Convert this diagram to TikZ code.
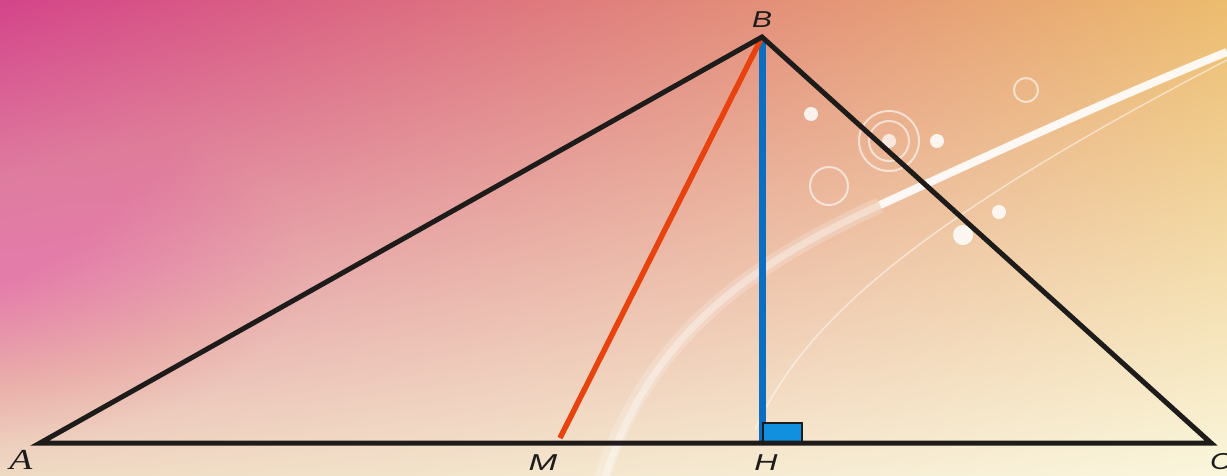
\documentclass[tikz,border=0pt]{standalone}
\usepackage{fontspec}
\usepackage{graphicx}
\setmainfont{Liberation Serif}
\setsansfont{Liberation Sans}
\usetikzlibrary{shadings}
\definecolor{bgul}{HTML}{D4448A}
\definecolor{bgur}{HTML}{ECBC6E}
\definecolor{bgll}{HTML}{EFD9C2}
\definecolor{bglr}{HTML}{FAF6DC}
\definecolor{pinkglow}{HTML}{F37CAA}
\definecolor{edgeblack}{HTML}{1E1C1A}
\definecolor{medianred}{HTML}{E8420E}
\definecolor{heightblue}{HTML}{0A6FC2}
\definecolor{squareblue}{HTML}{1190E0}
\newcommand{\widelabel}[2]{\scalebox{#1}[1]{#2}}
\tikzset{
  side/.style={draw=edgeblack, line width=5pt, line join=miter},
  median/.style={draw=medianred, line width=5.5pt},
  altitude/.style={draw=heightblue, line width=7pt},
  rightmark/.style={draw=edgeblack, fill=squareblue, line width=2pt},
  ptlabel/.style={font=\sffamily\itshape\fontsize{23}{23}\selectfont, text=edgeblack, inner sep=0pt},
  serlabel/.style={font=\rmfamily\itshape\fontsize{29}{29}\selectfont, text=edgeblack, inner sep=0pt},
  dot/.style={fill=white, opacity=0.85},
  ring/.style={draw=white, opacity=0.6, line width=2pt},
}
\begin{document}
\begin{tikzpicture}[x=1pt,y=-1pt]
\useasboundingbox (0,0) rectangle (1227,475);
% background
\begin{scope}
\clip (0,0) rectangle (1227,475);
\shade[upper left=bgul, upper right=bgur, lower left=bgll, lower right=bglr] (0,0) rectangle (1227,475);
\foreach \k in {1,...,40} {
  \fill[pinkglow, opacity=0.012] (-60,270) ellipse ({9*\k} and {4.5*\k});
}
% white arcs
\draw[white, opacity=0.2, line width=16pt] (602,478) .. controls (650,330) and (760,260) .. (880,205);
\draw[white, opacity=0.35, line width=7pt] (605,478) .. controls (650,330) and (760,260) .. (880,205);
\draw[white, opacity=0.9, line width=8pt] (880,205) .. controls (1000,150) and (1120,95) .. (1227,52);
\draw[white, opacity=0.5, line width=1.5pt] (755,430) .. controls (800,330) and (900,230) .. (1227,60);
% bubbles
\fill[dot] (811,114) circle (7);
\draw[ring] (889,141) circle (30);
\draw[ring] (889,141) circle (20);
\fill[dot, opacity=0.7] (889,141) circle (7);
\fill[dot] (937,141) circle (7);
\draw[ring] (829,186) circle (19);
\draw[ring] (1026,90) circle (12);
\fill[dot] (999,212) circle (7);
\fill[dot] (963,235) circle (10);
\end{scope}
% points
\coordinate (A) at (40,443);
\coordinate (B) at (762,37);
\coordinate (C) at (1211,443);
\coordinate (M) at (560,438);
\coordinate (H) at (762,443);
\coordinate (Hsq1) at (763,423);
\coordinate (Hsq2) at (802,443);
% altitude and median
\draw[altitude] (B) -- (H);
\draw[median] (B) -- (M);
\draw[rightmark] (Hsq1) rectangle (Hsq2);
% triangle
\draw[side] (A) -- (B) -- (C) -- cycle;
% labels
\node[serlabel] (lA) at (21,460) {\widelabel{1.3}{A}};
\node[ptlabel] (lB) at (762,20) {\widelabel{1.3}{B}};
\node[ptlabel] (lM) at (543,463) {\widelabel{1.5}{M}};
\node[ptlabel] (lH) at (766,463) {\widelabel{1.4}{H}};
\node[ptlabel] (lC) at (1221,462) {\widelabel{1.3}{C}};
\end{tikzpicture}
\end{document}
